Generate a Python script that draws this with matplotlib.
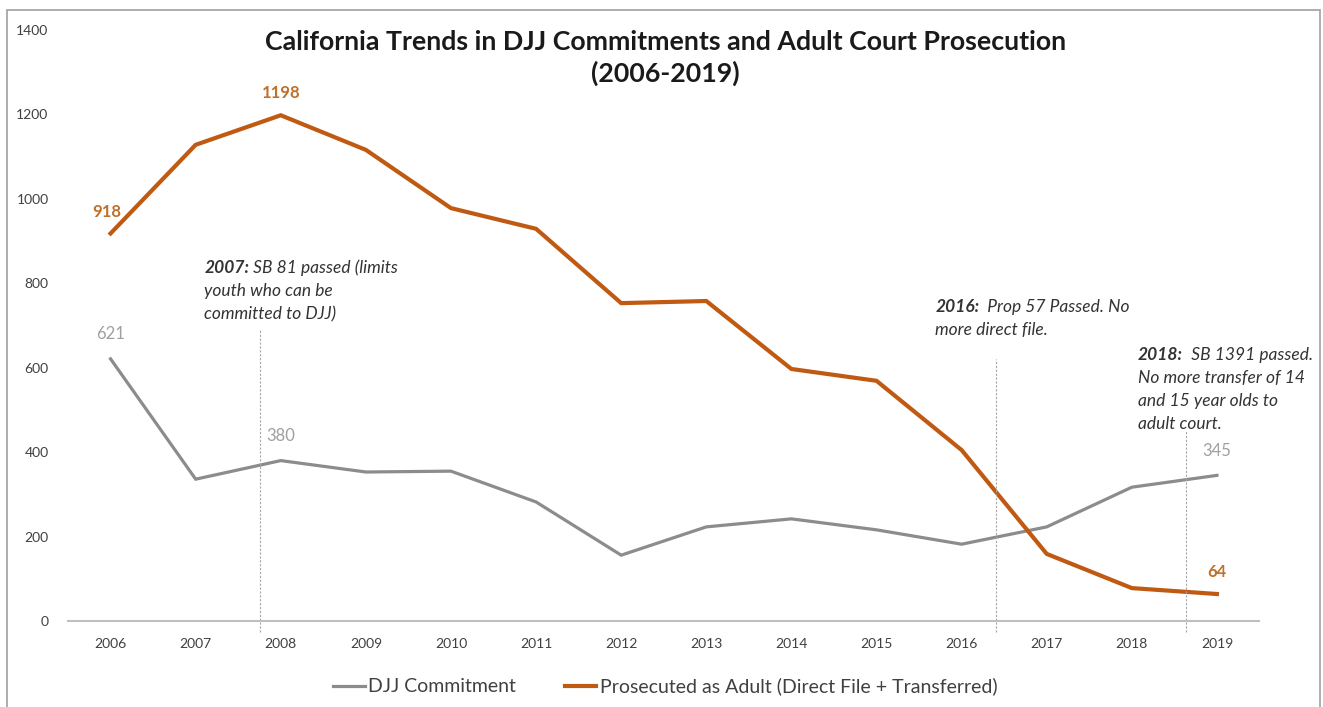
import matplotlib
import matplotlib.pyplot as plt
from matplotlib.patches import Rectangle

matplotlib.use('agg')

plt.rcParams['font.family'] = ['Lato', 'DejaVu Sans']

years = [2006, 2007, 2008, 2009, 2010, 2011, 2012, 2013, 2014, 2015, 2016, 2017, 2018, 2019]
djj = [621, 336, 380, 353, 355, 282, 156, 223, 242, 216, 182, 223, 317, 345]
adult = [918, 1128, 1198, 1116, 978, 929, 753, 758, 597, 569, 405, 159, 78, 64]

djj_labels = {2006: '621', 2008: '380', 2019: '345'}
adult_labels = {2006: '918', 2008: '1198', 2019: '64'}

# annotation: (x of dashed line, top of line, text x, first line y, bold part, lines)
notes = [
    (2007.76, 690, 2007.1, 836, '2007:', [' SB 81 passed (limits', 'youth who can be', 'committed to DJJ)']),
    (2016.4, 620, 2015.69, 744, '2016:', ['  Prop 57 Passed. No', 'more direct file.']),
    (2018.64, 450, 2018.07, 630, '2018:', ['  SB 1391 passed.', 'No more transfer of 14',
                                            'and 15 year olds to', 'adult court.']),
]

gray = '#8c8c8c'
orange = '#c05a12'
note_size = 12.5

fig = plt.figure(figsize=(13.23, 7.07), dpi=100)
ax = fig.add_axes([0.0514, 0.1216, 0.9006, 0.836])

ax.plot(years, djj, color=gray, lw=2.3, label='DJJ Commitment', solid_joinstyle='miter')
ax.plot(years, adult, color=orange, lw=3.0, label='Prosecuted as Adult (Direct File + Transferred)',
        solid_joinstyle='miter')

for yr, txt in djj_labels.items():
    i = years.index(yr)
    ax.annotate(txt, (yr, djj[i]), xytext=(0, 12), textcoords='offset points',
                ha='center', va='bottom', color='#a0a0a0', fontsize=12)
for yr, txt in adult_labels.items():
    i = years.index(yr)
    dx = -3 if yr == 2006 else 0
    ax.annotate(txt, (yr, adult[i]), xytext=(dx, 10), textcoords='offset points',
                ha='center', va='bottom', color='#c0702a', fontsize=12, fontweight='bold')

ax.set_xlim(2005.5, 2019.5)
ax.set_ylim(0, 1400)

for xline, ytop, tx, ty, bold, lines in notes:
    ax.plot([xline, xline], [-25, ytop], color='#a6a6a6', lw=0.8, ls=(0, (2, 1.5)), clip_on=False)
    t = ax.text(tx, ty, bold, fontsize=note_size, fontweight='bold', style='italic',
                color='#333333', va='center', ha='left')
    fig.canvas.draw()
    bb = t.get_window_extent()
    x_end = ax.transData.inverted().transform((bb.x1, bb.y1))[0]
    ax.text(x_end, ty, lines[0], fontsize=note_size, style='italic', color='#333333',
            va='center', ha='left')
    for k, line in enumerate(lines[1:], start=1):
        ax.annotate(line, (tx, ty), xytext=(0, -16.6 * k), textcoords='offset points',
                    fontsize=note_size, style='italic', color='#333333', va='center', ha='left')

ax.set_xticks(years)
ax.set_yticks(range(0, 1401, 200))
ax.tick_params(length=0, labelsize=10, colors='#404040', pad=12)
ax.tick_params(axis='y', pad=14)
for side in ['top', 'right', 'left']:
    ax.spines[side].set_visible(False)
ax.spines['bottom'].set_color('#bfbfbf')
ax.spines['bottom'].set_linewidth(1.5)

fig.text(0.503, 0.918, 'California Trends in DJJ Commitments and Adult Court Prosecution\n(2006-2019)',
         ha='center', va='center', fontsize=19.3, fontweight='bold', color='#1a1a1a', linespacing=1.3)

fig.legend(loc='center', bbox_to_anchor=(0.503, 0.029), ncol=2, frameon=False, fontsize=14,
           handlelength=1.6, handletextpad=0.2, columnspacing=2.5, labelcolor='#404040')

fig.add_artist(Rectangle((7 / 1323, -0.01), 1313 / 1323, 1 - 10 / 707 + 0.01,
                         transform=fig.transFigure, fill=False, edgecolor='#a0a0a0', lw=1.2))

fig.savefig('out.png', dpi=100)
